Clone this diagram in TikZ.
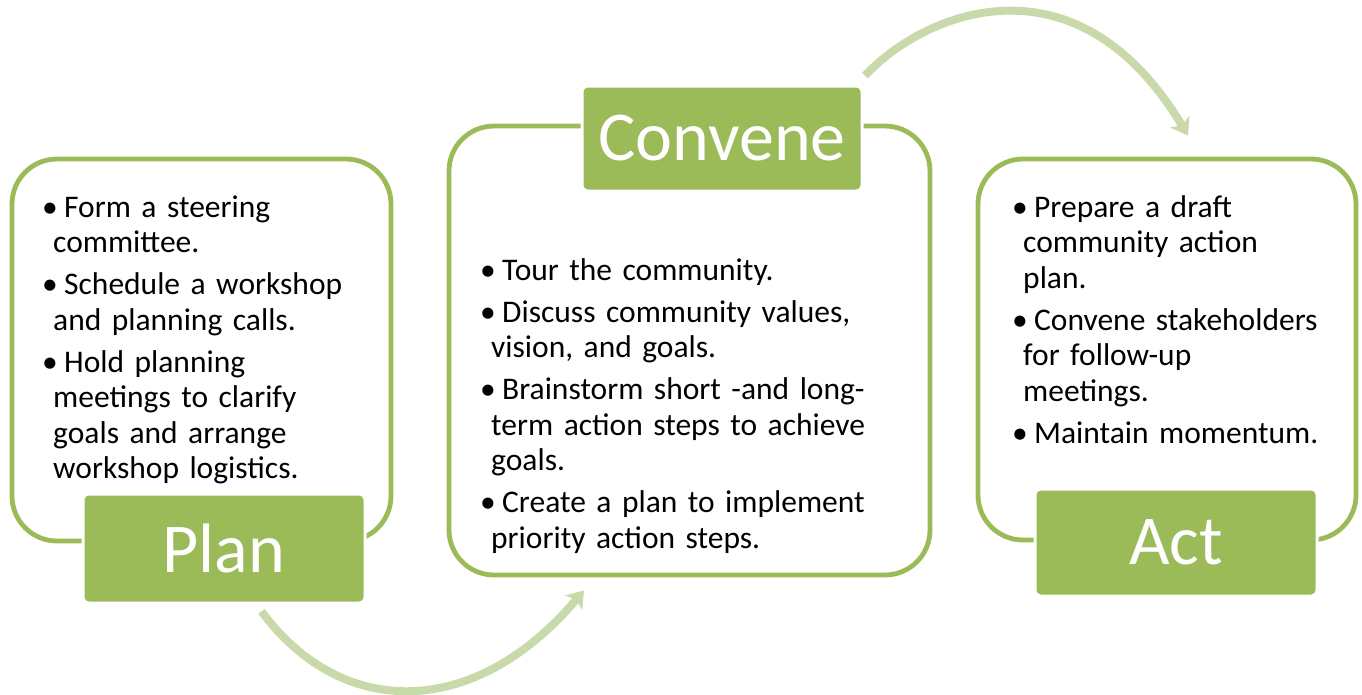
\documentclass[tikz,border=0pt]{standalone}
\usepackage{fontspec}
\setmainfont{Carlito}
\usetikzlibrary{arrows.meta,calc}
\definecolor{leaf}{RGB}{155,187,89}
\definecolor{pale}{RGB}{200,217,170}
\newcommand\bul[1]{\par\hangindent=11pt\hangafter=1\noindent\makebox[22pt][l]{\textbullet}#1}
\begin{document}
\begin{tikzpicture}[x=1pt,y=-1pt,
  frame/.style={draw=leaf,line width=4.8pt,rounded corners=45pt,fill=white,inner sep=0pt},
  tag/.style={fill=leaf,draw=white,line width=3pt,rounded corners=6pt,text=white,
    font=\fontsize{70}{84}\selectfont,inner sep=0pt},
  flow/.style={draw=pale,line width=8pt,-{Stealth[length=16pt,width=22pt,inset=4pt]}},
  bullets/.style={anchor=base west,inner sep=0pt,text width=#1,align=left,
    font=\fontsize{31.5}{35.5}\selectfont\setlength{\parskip}{6.5pt}}]
\useasboundingbox (0,0) rectangle (1362,694);
% frames
\node[frame,minimum width=379pt,minimum height=382pt] (planframe) at (201.5,350) {};
\node[frame,minimum width=481pt,minimum height=449pt] (convframe) at (689.5,350.5) {};
\node[frame,minimum width=378pt,minimum height=381pt] (actframe) at (1167,349.5) {};
% connectors
\draw[flow] ($(planframe.south)+(60,68)$) .. controls +(80,108) and +(-110,130) .. ($(convframe.south)+(-105.5,13)$);
\draw[flow] ($(convframe.north)+(175.5,-48)$) .. controls +(62,-66) and +(-110,-184) .. ($(actframe.north)+(21,-21)$);
% tags
\node[tag,minimum width=282pt,minimum height=109pt] (plantag) at (224,548.5) {Plan};
\node[tag,minimum width=280pt,minimum height=105pt] (convtag) at (722,138.5) {Convene};
\node[tag,minimum width=282pt,minimum height=107pt] (acttag) at (1176,542.5) {Act};
% texts
\node[bullets=345pt] (plantext) at (42,175) {%
\bul{Form a steering\newline committee.}
\bul{Schedule a workshop\newline and planning calls.}
\bul{Hold planning\newline meetings to clarify\newline goals and arrange\newline workshop logistics.}\par};
\node[bullets=440pt] (convtext) at (480,238) {%
\bul{Tour the community.}
\bul{Discuss community values,\newline vision, and goals.}
\bul{Brainstorm short -and long-\newline term action steps to achieve\newline goals.}
\bul{Create a plan to implement\newline priority action steps.}\par};
\node[bullets=335pt] (acttext) at (1012,175) {%
\bul{Prepare a draft\newline community action\newline plan.}
\bul{Convene stakeholders\newline for follow-up\newline meetings.}
\bul{Maintain momentum.}\par};
\end{tikzpicture}
\end{document}
